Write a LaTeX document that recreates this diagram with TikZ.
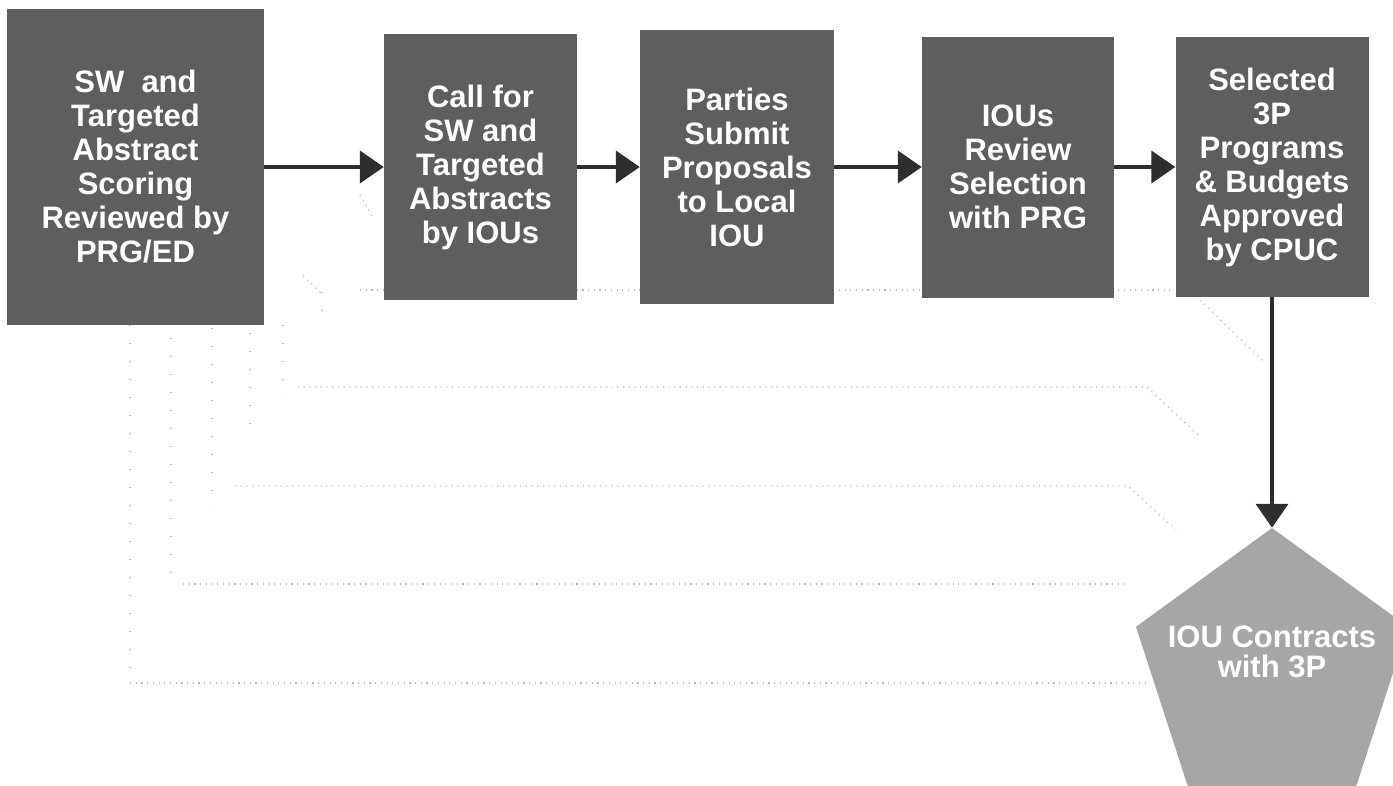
\documentclass[tikz,border=0pt]{standalone}
\usepackage{fontspec}
\setmainfont{Liberation Sans}
\usepackage{tikz}
\usepackage{xcolor}
\usetikzlibrary{arrows.meta,shapes.geometric}
\definecolor{boxgray}{HTML}{5E5E5E}
\definecolor{pentgray}{HTML}{A6A6A6}
\definecolor{arrowgray}{HTML}{2E2E2E}
\definecolor{ghostgray}{HTML}{B8B8B8}

\begin{document}
\begin{tikzpicture}[x=1pt,y=-1pt,
  stepbox/.style={fill=boxgray,draw=none,inner sep=0pt,text=white,align=center,
    font=\bfseries\fontsize{31}{34}\selectfont},
  pentbox/.style={regular polygon,regular polygon sides=5,minimum size=286pt,
    fill=pentgray,draw=none,inner sep=0pt},
  pentlabel/.style={text=white,align=center,inner sep=0pt,
    font=\bfseries\fontsize{31}{30}\selectfont},
  flow/.style={arrowgray,line width=4pt,-{Triangle[length=24pt,width=32pt]}},
  ghosth/.style={ghostgray,line width=1.2pt,dash pattern=on 1.2pt off 4.5pt},
  ghostv/.style={ghostgray,line width=1.2pt,dash pattern=on 1.2pt off 16.8pt}]
\useasboundingbox (0,0) rectangle (1393,785);
\clip (0,0) rectangle (1393,785);
% faint dotted traces
\draw[ghostv] (130,325) -- (130,683);
\draw[ghostv] (171,338) -- (171,589);
\draw[ghostv] (212,328) -- (212,508);
\draw[ghostv] (250,333) -- (250,440);
\draw[ghostv] (283,325) -- (283,397);
\draw[ghostv] (322,292) -- (322,326);
\draw[ghosth] (130,683) -- (1150,683);
\draw[ghosth] (183,584) -- (1128,584);
\draw[ghosth] (235,486) -- (1128,486) -- (1176,530);
\draw[ghosth] (298,387) -- (1147,387) -- (1198,435);
\draw[ghosth] (360,290) -- (1170,290);
\draw[ghosth] (1200,300) -- (1265,363);
\draw[ghosth] (303,276) -- (321,293);
\draw[ghosth] (360,195) -- (372,216);
% steps
\node[stepbox,minimum width=257pt,minimum height=316pt] (abstracts) at (135.5,167)
  {SW\ \ and\\Targeted\\Abstract\\Scoring\\Reviewed by\\PRG/ED};
\node[stepbox,minimum width=193pt,minimum height=266pt] (callfor) at (480.5,167)
  {Call for\\SW and\\Targeted\\Abstracts\\by IOUs};
\node[stepbox,minimum width=194pt,minimum height=274pt] (submit) at (737,167)
  {Parties\\Submit\\Proposals\\to Local\\IOU};
\node[stepbox,minimum width=192pt,minimum height=261pt] (review) at (1018,167)
  {IOUs\\Review\\Selection\\with PRG};
\node[stepbox,minimum width=193pt,minimum height=260pt] (approve) at (1272,167)
  {Selected\\3P\\Programs\\\& Budgets\\Approved\\by CPUC};
% contract pentagon
\node[pentbox] (contract) at (1272,671) {};
\node[pentlabel] (contractlabel) at (1272,652) {IOU Contracts\\with 3P};
% arrows
\draw[flow] (abstracts) -- (callfor);
\draw[flow] (callfor) -- (submit);
\draw[flow] (submit) -- (review);
\draw[flow] (review) -- (approve);
\draw[flow] (approve.south) -- (contract.corner 1);
\end{tikzpicture}
\end{document}
